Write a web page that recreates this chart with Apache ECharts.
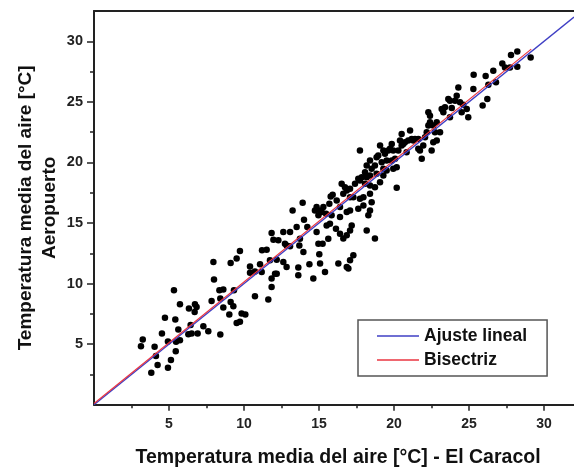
<!DOCTYPE html>
<html><head><meta charset="utf-8">
<script src="https://cdn.jsdelivr.net/npm/echarts@6/dist/echarts.min.js"></script>
<style>html,body{margin:0;padding:0;background:#fff}#c{width:574px;height:467px}</style>
</head><body><div id="c"></div>
<script>
// ---- data ----
const xMajorTicks = [5, 10, 15, 20, 25, 30];
const yMajorTicks = [5, 10, 15, 20, 25, 30];
const minorTicks = [2.5, 7.5, 12.5, 17.5, 22.5, 27.5];
const xName = 'Temperatura media del aire [°C] - El Caracol';
const yName = 'Temperatura media del aire [°C]\nAeropuerto';
const legendNames = ['Ajuste lineal', 'Bisectriz'];
// observed points [El Caracol, Aeropuerto]
const pointsLow = [
[3.13,4.83],[3.25,5.39],[4.04,4.78],[4.13,4.01],[3.82,2.64],[4.24,3.27],[4.53,5.88],[4.73,7.17],[4.93,5.22],[4.93,3.05],
[5.13,3.68],[5.33,9.45],[5.42,7.03],[5.47,5.19],[5.45,4.42],[5.62,6.21],[5.73,5.33],[5.73,8.29],[6.33,7.94],[6.44,6.57],
[6.29,5.82],[6.51,5.88],[6.71,7.66],[6.73,8.29],[6.84,8.07],[6.91,5.88],[7.29,6.48],[7.62,6.07],[7.84,8.57],[8.0,10.33],
[8.36,9.45],[8.62,9.5],[8.42,8.76],[8.42,5.8],[8.62,8.02],[9.11,8.48],[9.29,8.13],[9.02,7.45],[9.51,6.75],[9.73,6.84],
[9.84,7.53],[10.09,7.45],[9.33,9.45],[10.4,10.9],[10.73,8.95],[10.73,11.0],[7.96,11.78],[9.11,11.7],[9.51,12.06],[9.73,12.69],
[10.4,11.4]
];
const pointsMid = [
[11.07,11.59],[11.2,12.74],[11.51,12.8],[11.18,10.96],[11.73,11.92],[11.84,10.41],[11.84,9.72],[11.62,8.68],[12.07,10.82],[12.18,11.97],
[11.84,14.17],[11.96,13.62],[12.29,13.57],[12.62,14.25],[12.73,13.29],[12.84,13.15],[12.62,11.78],[12.84,11.37],[13.07,14.25],[13.07,13.07],
[13.24,16.04],[13.51,14.66],[13.62,11.32],[13.62,10.68],[13.69,13.15],[13.73,13.7],[13.91,16.67],[13.96,12.6],[14.0,15.27],[14.22,14.66],
[14.36,11.59],[14.62,10.41],[14.84,14.25],[14.96,13.29],[15.02,12.41],[15.07,11.65],[15.24,13.29],[15.4,10.96],[15.51,14.8],[15.62,13.7],
[15.73,14.94],[14.73,16.04],[14.84,16.31],[15.07,16.04],[15.18,15.9],[15.29,16.31],[15.47,15.76],[15.69,16.59],[15.78,17.19],[15.91,17.33],
[15.84,15.63],[16.13,14.53],[14.96,15.63],[12.18,10.82],
[16.85,17.69],[16.62,17.41],[17.07,17.13],[16.18,16.86],[17.29,17.13],[17.73,17.0],[17.96,17.13],[18.4,17.41],[18.51,16.72],[17.62,16.18],
[17.96,16.45],[20.18,17.91],[18.4,16.04],[18.29,15.63],[17.07,16.04],[16.85,15.9],[16.4,15.49],[16.4,16.31],[18.18,14.39],[18.73,13.71],
[17.07,14.39],[17.18,14.8],[16.85,13.98],[16.62,13.71],[16.4,14.12],[16.29,11.65],[16.85,11.37],[16.96,11.24],[17.07,11.92],[17.29,12.33]
];
const pointsHigh = [
[16.51,18.24],[16.73,17.96],[17.07,17.83],[17.4,18.24],[17.62,18.65],[17.85,18.78],[17.73,20.98],[18.07,19.19],[18.18,18.78],[18.4,18.92],
[18.4,20.16],[18.51,19.47],[18.73,19.74],[18.84,20.43],[18.95,20.57],[19.07,21.39],[19.18,20.02],[19.29,20.98],[19.4,20.71],[19.51,20.16],
[19.62,20.98],[19.73,21.12],[19.85,21.53],[19.95,20.98],[20.18,19.6],[20.07,20.3],[20.29,20.98],[20.4,21.8],[20.51,22.35],[20.51,21.39],
[20.62,21.53],[20.73,21.66],[20.95,21.8],[21.07,22.63],[21.18,21.94],[21.29,21.8],[21.4,21.94],[21.62,21.94],[21.73,20.98],[21.62,21.12],
[21.85,20.3],[21.95,21.39],[22.07,22.08],[22.18,22.49],[22.29,23.04],[22.4,23.31],[22.29,24.14],[22.4,23.86],[22.62,23.04],[22.62,21.66],
[22.73,22.49],[22.85,23.31],[22.85,21.8],[22.51,20.98],[23.07,22.49],[23.18,24.41],[23.29,24.14],[23.4,24.55],[23.62,25.24],[23.73,25.1],
[23.73,23.72],[24.07,25.1],[24.18,25.51],[24.29,26.19],[24.4,24.96],[24.51,24.14],[24.85,24.41],[24.95,23.72],
[23.85,24.5],[24.62,24.77],[19.29,19.47],[19.51,19.33],[19.85,20.16],[18.18,19.74],[20.84,20.84],[19.95,19.47],[19.07,18.37],[18.73,17.96],
[18.4,18.1],[18.07,18.24],[18.84,19.06],[19.29,18.92],[17.73,18.51],
[28.22,29.16],[27.8,28.86],[29.11,28.67],[27.22,28.17],[27.4,27.84],[27.73,27.84],[28.22,27.9],[26.62,27.57],[26.11,27.13],[25.31,27.24],
[26.8,26.61],[26.29,26.42],[25.29,26.06],[26.22,25.24],[25.91,24.69]
];
const fitLine = [[0, 0], [32, 32]];
const bisectrizLine = [[0, 0.1], [29.15, 29.35]];

// ---- chart ----
const FONT = '"Liberation Sans", Arial, sans-serif';
const INK = '#222';
const gridRect = {left: 94, top: 11, width: 480, height: 393.7, containLabel: false, outerBoundsMode: 'none'};
const chart = echarts.init(document.getElementById('c'), null, {renderer: 'canvas'});
chart.setOption({
  animation: false,
  backgroundColor: '#fff',
  grid: [Object.assign({}, gridRect), Object.assign({}, gridRect)],
  legend: {
    data: legendNames,
    orient: 'vertical',
    left: 358, top: 320,
    backgroundColor: '#fff',
    borderColor: '#555', borderWidth: 1.5,
    padding: [6, 20, 6, 19],
    itemGap: 4, itemWidth: 42, itemHeight: 1.5,
    icon: 'rect',
    textStyle: {fontFamily: FONT, fontSize: 17.5, fontWeight: 'bold', color: '#111', lineHeight: 20}
  },
  xAxis: [
    {gridIndex: 0, type: 'value', min: 0, max: 32, position: 'bottom',
     name: xName, nameLocation: 'middle', nameGap: 43, nameMoveOverlap: false,
     nameTextStyle: {fontFamily: FONT, fontSize: 19.5, fontWeight: 'bold', color: '#111', padding: [0, 0, 0, 8]},
     axisLine: {lineStyle: {color: INK, width: 2}},
     axisTick: {customValues: xMajorTicks, length: 6, lineStyle: {color: INK, width: 1.5}},
     axisLabel: {customValues: xMajorTicks, margin: 12, fontFamily: FONT, fontSize: 14, fontWeight: 'bold', color: INK},
     splitLine: {show: false}},
    {gridIndex: 0, type: 'value', min: 0, max: 32, position: 'top',
     axisLine: {lineStyle: {color: INK, width: 2}},
     axisTick: {show: false}, axisLabel: {show: false}, splitLine: {show: false}},
    {gridIndex: 1, type: 'value', min: 0, max: 32, position: 'bottom',
     axisLine: {show: false},
     axisTick: {customValues: minorTicks, length: 3.5, lineStyle: {color: INK, width: 1.5}},
     axisLabel: {show: false}, splitLine: {show: false}}
  ],
  yAxis: [
    {gridIndex: 0, type: 'value', min: 0, max: 32.5, position: 'left',
     name: yName, nameLocation: 'middle', nameGap: 32, nameRotate: 90, nameMoveOverlap: false,
     nameTextStyle: {fontFamily: FONT, fontSize: 19, fontWeight: 'bold', color: '#111', lineHeight: 24, align: 'center'},
     axisLine: {lineStyle: {color: INK, width: 2}},
     axisTick: {customValues: yMajorTicks, length: 7, lineStyle: {color: INK, width: 1.5}},
     axisLabel: {customValues: yMajorTicks, margin: 11, fontFamily: FONT, fontSize: 14.5, fontWeight: 'bold', color: INK},
     splitLine: {show: false}},
    {gridIndex: 1, type: 'value', min: 0, max: 32.5, position: 'left',
     axisLine: {show: false},
     axisTick: {customValues: minorTicks, length: 4, lineStyle: {color: INK, width: 1.5}},
     axisLabel: {show: false}, splitLine: {show: false}}
  ],
  series: [
    {type: 'scatter', name: 'Datos', xAxisIndex: 0, yAxisIndex: 0, z: 2,
     data: pointsLow.concat(pointsMid, pointsHigh),
     symbol: 'circle', symbolSize: 6.5, itemStyle: {color: '#000', opacity: 1}},
    {type: 'line', name: legendNames[0], xAxisIndex: 0, yAxisIndex: 0, z: 3,
     data: fitLine, symbol: 'none', color: '#3f3fc4',
     lineStyle: {color: '#3f3fc4', width: 1.3}},
    {type: 'line', name: legendNames[1], xAxisIndex: 0, yAxisIndex: 0, z: 4,
     data: bisectrizLine, symbol: 'none', color: '#ea3540',
     lineStyle: {color: '#ea3540', width: 1.2}}
  ]
});
</script>
</body></html>
